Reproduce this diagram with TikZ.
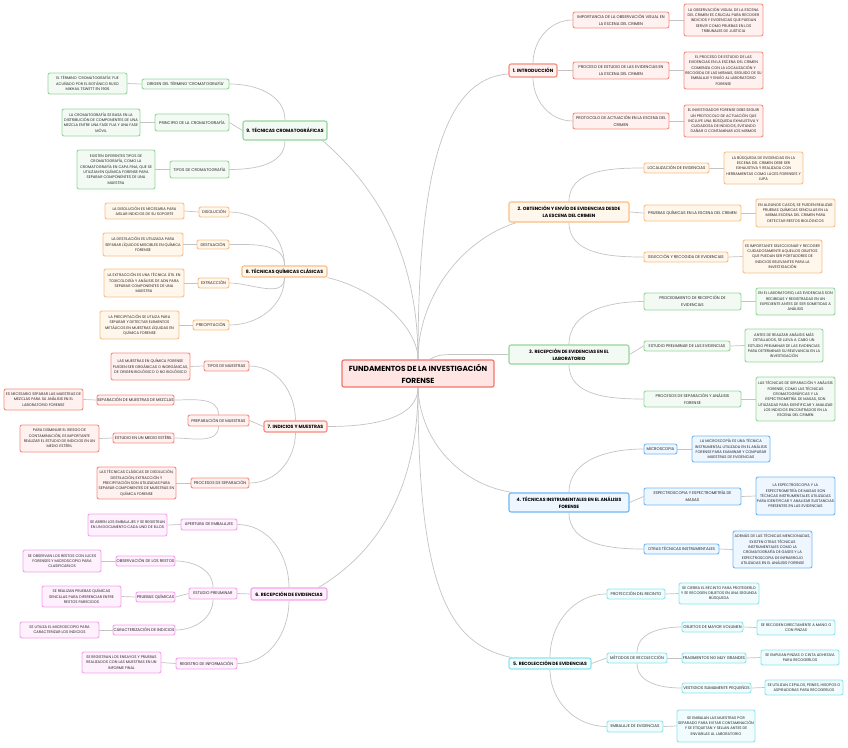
\documentclass[tikz,border=0pt]{standalone}
\usepackage{fontspec}
\setmainfont{Poppins}
\usetikzlibrary{calc}
\definecolor{lnC}{HTML}{C4C4C4}
\definecolor{rootD}{HTML}{F0766B}\definecolor{rootF}{HTML}{FFE6E5}
\definecolor{rD}{HTML}{F58C80}\definecolor{rF}{HTML}{FFF1EF}
\definecolor{oD}{HTML}{F9BF85}\definecolor{oF}{HTML}{FFF6EC}
\definecolor{gD}{HTML}{95D69C}\definecolor{gF}{HTML}{F3FAF4}
\definecolor{bD}{HTML}{70B8F2}\definecolor{bF}{HTML}{EEF6FF}
\definecolor{cD}{HTML}{8AE6EE}\definecolor{cF}{HTML}{F0FCFD}
\definecolor{pD}{HTML}{F5A2EA}\definecolor{pF}{HTML}{FEF0FC}
\pgfdeclarelayer{bg}\pgfsetlayers{bg,main}
\tikzset{
 mmbox/.style={rounded corners=2pt, line width=0.9pt, inner sep=0pt, align=center, text=black!85},
 mmdet/.style={mmbox, font=\fontsize{3.75}{5.3}\selectfont},
 mmsub/.style={mmbox, font=\fontsize{4.0}{6.8}\selectfont},
 mmbr/.style={mmbox, line width=1.1pt, font=\bfseries\fontsize{4.6}{7.2}\selectfont, text=black},
 sz/.style 2 args={minimum width=#1pt, minimum height=#2pt},
 tR/.style={draw=rD, fill=rF},
 tO/.style={draw=oD, fill=oF},
 tG/.style={draw=gD, fill=gF},
 tB/.style={draw=bD, fill=bF},
 tC/.style={draw=cD, fill=cF},
 tP/.style={draw=pD, fill=pF},
 ln/.style={draw=lnC, line width=0.7pt},
}
\begin{document}
\begin{tikzpicture}[x=1pt,y=-1pt]
\useasboundingbox (0,0) rectangle (848,747);

% root
\node[mmbox, draw=rootD, fill=rootF, line width=1.2pt, font=\bfseries\fontsize{7.4}{12}\selectfont, text=black, sz={152}{27}] (root) at (418,373.5) {FUNDAMENTOS DE LA INVESTIGACIÓN\\FORENSE};

% ---------- 1
\node[mmbr,tR,sz={48}{13}] (b1) at (533,70.5) {1. INTRODUCCIÓN};
\node[mmsub,tR,sz={96}{16}] (c11) at (621,20) {IMPORTANCIA DE LA OBSERVACIÓN VISUAL EN\\LA ESCENA DEL CRIMEN};
\node[mmdet,tR,sz={79}{32}] (d11) at (723.5,20) {LA OBSERVACIÓN VISUAL DE LA ESCENA\\DEL CRIMEN ES CRUCIAL PARA RECOGER\\INDICIOS Y EVIDENCIAS QUE PUEDAN\\SERVIR COMO PRUEBAS EN LOS\\TRIBUNALES DE JUSTICIA};
\node[mmsub,tR,sz={96}{17}] (c12) at (621,70.5) {PROCESO DE ESTUDIO DE LAS EVIDENCIAS EN\\LA ESCENA DEL CRIMEN};
\node[mmdet,tR,sz={79}{37}] (d12) at (723.5,70.5) {EL PROCESO DE ESTUDIO DE LAS\\EVIDENCIAS EN LA ESCENA DEL CRIMEN\\COMIENZA CON LA LOCALIZACIÓN Y\\RECOGIDA DE LAS MISMAS, SEGUIDO DE SU\\EMBALAJE Y ENVÍO AL LABORATORIO\\FORENSE};
\node[mmsub,tR,sz={96}{16}] (c13) at (621,121) {PROTOCOLO DE ACTUACIÓN EN LA ESCENA DEL\\CRIMEN};
\node[mmdet,tR,sz={79}{32}] (d13) at (723.5,121) {EL INVESTIGADOR FORENSE DEBE SEGUIR\\UN PROTOCOLO DE ACTUACIÓN QUE\\INCLUYE UNA BÚSQUEDA EXHAUSTIVA Y\\CUIDADOSA DE INDICIOS, EVITANDO\\DAÑAR O CONTAMINAR LOS MISMOS};

% ---------- 2
\node[mmbr,tO,sz={120}{20}] (b2) at (569,212) {2. OBTENCIÓN Y ENVÍO DE EVIDENCIAS DESDE\\LA ESCENA DEL CRIMEN};
\node[mmsub,tO,sz={65}{10}] (c21) at (676.5,168) {LOCALIZACIÓN DE EVIDENCIAS};
\node[mmdet,tO,sz={79}{32}] (d21) at (763.5,168) {LA BÚSQUEDA DE EVIDENCIAS EN LA\\ESCENA DEL CRIMEN DEBE SER\\EXHAUSTIVA Y REALIZADA CON\\HERRAMIENTAS COMO LUCES FORENSES Y\\LUPA};
\node[mmsub,tO,sz={97}{16}] (c22) at (692.5,213) {PRUEBAS QUÍMICAS EN LA ESCENA DEL CRIMEN};
\node[mmdet,tO,sz={79}{28}] (d22) at (795.5,213) {EN ALGUNOS CASOS, SE PUEDEN REALIZAR\\PRUEBAS QUÍMICAS SENCILLAS EN LA\\MISMA ESCENA DEL CRIMEN PARA\\DETECTAR RESTOS BIOLÓGICOS};
\node[mmsub,tO,sz={84}{10}] (c23) at (686,257) {SELECCIÓN Y RECOGIDA DE EVIDENCIAS};
\node[mmdet,tO,sz={79}{33}] (d23) at (782.5,256.5) {ES IMPORTANTE SELECCIONAR Y RECOGER\\CUIDADOSAMENTE AQUELLOS OBJETOS\\QUE PUEDAN SER PORTADORES DE\\INDICIOS RELEVANTES PARA LA\\INVESTIGACIÓN};

% ---------- 3
\node[mmbr,tG,sz={120}{19}] (b3) at (569,354.5) {3. RECEPCIÓN DE EVIDENCIAS EN EL\\LABORATORIO};
\node[mmsub,tG,sz={97}{17}] (c31) at (692.5,301.5) {PROCEDIMIENTO DE RECEPCIÓN DE\\EVIDENCIAS};
\node[mmdet,tG,sz={79}{27}] (d31) at (795.5,301.5) {EN EL LABORATORIO, LAS EVIDENCIAS SON\\RECIBIDAS Y REGISTRADAS EN UN\\EXPEDIENTE ANTES DE SER SOMETIDAS A\\ANÁLISIS};
\node[mmsub,tG,sz={86}{10}] (c32) at (687,346) {ESTUDIO PRELIMINAR DE LAS EVIDENCIAS};
\node[mmdet,tG,sz={78}{33}] (d32) at (784,345.5) {ANTES DE REALIZAR ANÁLISIS MÁS\\DETALLADOS, SE LLEVA A CABO UN\\ESTUDIO PRELIMINAR DE LAS EVIDENCIAS\\PARA DETERMINAR SU RELEVANCIA EN LA\\INVESTIGACIÓN};
\node[mmsub,tG,sz={97}{16}] (c33) at (692.5,399) {PROCESOS DE SEPARACIÓN Y ANÁLISIS\\FORENSE};
\node[mmdet,tG,sz={79}{44}] (d33) at (795.5,399) {LAS TÉCNICAS DE SEPARACIÓN Y ANÁLISIS\\FORENSE, COMO LAS TÉCNICAS\\CROMATOGRÁFICAS Y LA\\ESPECTROMETRÍA DE MASAS, SON\\UTILIZADAS PARA IDENTIFICAR Y ANALIZAR\\LOS INDICIOS ENCONTRADOS EN LA\\ESCENA DEL CRIMEN};

% ---------- 4
\node[mmbr,tB,sz={120}{19}] (b4) at (569,502.5) {4. TÉCNICAS INSTRUMENTALES EN EL ANÁLISIS\\FORENSE};
\node[mmsub,tB,sz={33}{10}] (c41) at (660.5,449) {MICROSCOPIA};
\node[mmdet,tB,sz={78}{26}] (d41) at (731,449) {LA MICROSCOPÍA ES UNA TÉCNICA\\INSTRUMENTAL UTILIZADA EN EL ANÁLISIS\\FORENSE PARA EXAMINAR Y COMPARAR\\MUESTRAS DE EVIDENCIAS};
\node[mmsub,tB,sz={97}{17}] (c42) at (692.5,496.5) {ESPECTROSCOPIA Y ESPECTROMETRÍA DE\\MASAS};
\node[mmdet,tB,sz={79}{38}] (d42) at (795.5,496) {LA ESPECTROSCOPIA Y LA\\ESPECTROMETRÍA DE MASAS SON\\TÉCNICAS INSTRUMENTALES UTILIZADAS\\PARA IDENTIFICAR Y ANALIZAR SUSTANCIAS\\PRESENTES EN LAS EVIDENCIAS};
\node[mmsub,tB,sz={75}{10}] (c43) at (681.5,549) {OTRAS TÉCNICAS INSTRUMENTALES};
\node[mmdet,tB,sz={79}{37}] (d43) at (772.5,549.5) {ADEMÁS DE LAS TÉCNICAS MENCIONADAS,\\EXISTEN OTRAS TÉCNICAS\\INSTRUMENTALES COMO LA\\CROMATOGRAFÍA DE GASES Y LA\\ESPECTROSCOPIA DE INFRARROJO\\UTILIZADAS EN EL ANÁLISIS FORENSE};

% ---------- 5
\node[mmbr,tC,sz={82}{11}] (b5) at (550,663.5) {5. RECOLECCIÓN DE EVIDENCIAS};
\node[mmsub,tC,sz={58}{10}] (c51) at (636,594) {PROTECCIÓN DEL RECINTO};
\node[mmdet,tC,sz={80}{21}] (d51) at (719,593.5) {SE CIERRA EL RECINTO PARA PROTEGERLO\\Y SE RECOGEN OBJETOS EN UNA SEGUNDA\\BÚSQUEDA};
\node[mmsub,tC,sz={60}{10}] (c52) at (637,658) {MÉTODOS DE RECOLECCIÓN};
\node[mmsub,tC,sz={61}{10}] (c521) at (712.5,627) {OBJETOS DE MAYOR VOLUMEN};
\node[mmdet,tC,sz={78}{15}] (d521) at (796,627.5) {SE RECOGEN DIRECTAMENTE A MANO O\\CON PINZAS};
\node[mmsub,tC,sz={64}{10}] (c522) at (714,658) {FRAGMENTOS NO MUY GRANDES};
\node[mmdet,tC,sz={78}{15}] (d522) at (800,657.5) {SE EMPLEAN PINZAS O CINTA ADHESIVA\\PARA RECOGERLOS};
\node[mmsub,tC,sz={69}{10}] (c523) at (716.5,688) {VESTIGIOS SUMAMENTE PEQUEÑOS};
\node[mmdet,tC,sz={78}{15}] (d523) at (804,687.5) {SE UTILIZAN CEPILLOS, PEINES, HISOPOS O\\ASPIRADORAS PARA RECOGERLOS};
\node[mmsub,tC,sz={56}{11}] (c53) at (635,726.5) {EMBALAJE DE EVIDENCIAS};
\node[mmdet,tC,sz={78}{32}] (d53) at (716,726) {SE EMBALAN LAS MUESTRAS POR\\SEPARADO PARA EVITAR CONTAMINACIÓN\\Y SE ETIQUETAN Y SELLAN ANTES DE\\ENVIARLAS AL LABORATORIO};

% ---------- 9
\node[mmbr,tG,sz={84}{19}] (b9) at (285,130.5) {9. TÉCNICAS CROMATOGRÁFICAS};
\node[mmsub,tG,sz={87}{10}] (c91) at (185.5,84) {ORIGEN DEL TÉRMINO `CROMATOGRAFÍA'};
\node[mmdet,tG,sz={79}{21}] (d91) at (87.5,83.5) {EL TÉRMINO `CROMATOGRAFÍA' FUE\\ACUÑADO POR EL BOTÁNICO RUSO\\MIKHAIL TSWETT EN 1906};
\node[mmsub,tG,sz={74}{17}] (c92) at (192,122.5) {PRINCIPIO DE LA CROMATOGRAFÍA};
\node[mmdet,tG,sz={78}{27}] (d92) at (101,122.5) {LA CROMATOGRAFÍA SE BASA EN LA\\DISTRIBUCIÓN DE COMPONENTES DE UNA\\MEZCLA ENTRE UNA FASE FIJA Y UNA FASE\\MÓVIL};
\node[mmsub,tG,sz={59}{17}] (c93) at (199.5,169.5) {TIPOS DE CROMATOGRAFÍA};
\node[mmdet,tG,sz={78}{39}] (d93) at (116,169.5) {EXISTEN DIFERENTES TIPOS DE\\CROMATOGRAFÍA, COMO LA\\CROMATOGRAFÍA EN CAPA FINA, QUE SE\\UTILIZAN EN QUÍMICA FORENSE PARA\\SEPARAR COMPONENTES DE UNA\\MUESTRA};

% ---------- 8
\node[mmbr,tO,sz={85}{11}] (b8) at (284.5,271.5) {8. TÉCNICAS QUÍMICAS CLÁSICAS};
\node[mmsub,tO,sz={30}{10}] (c81) at (214,212) {DISOLUCIÓN};
\node[mmdet,tO,sz={79}{16}] (d81) at (144.5,211) {LA DISOLUCIÓN ES NECESARIA PARA\\AISLAR INDICIOS DE SU SOPORTE};
\node[mmsub,tO,sz={32}{9}] (c82) at (213,244.5) {DESTILACIÓN};
\node[mmdet,tO,sz={80}{23}] (d82) at (143,244.5) {LA DESTILACIÓN ES UTILIZADA PARA\\SEPARAR LÍQUIDOS MISCIBLES EN QUÍMICA\\FORENSE};
\node[mmsub,tO,sz={31}{10}] (c83) at (213.5,283) {EXTRACCIÓN};
\node[mmdet,tO,sz={80}{28}] (d83) at (144,283) {LA EXTRACCIÓN ES UNA TÉCNICA ÚTIL EN\\TOXICOLOGÍA Y ANÁLISIS DE ADN PARA\\SEPARAR COMPONENTES DE UNA\\MUESTRA};
\node[mmsub,tO,sz={36}{10}] (c84) at (211,325) {PRECIPITACIÓN};
\node[mmdet,tO,sz={79}{28}] (d84) at (139.5,325) {LA PRECIPITACIÓN SE UTILIZA PARA\\SEPARAR Y DETECTAR ELEMENTOS\\METÁLICOS EN MUESTRAS LÍQUIDAS EN\\QUÍMICA FORENSE};

% ---------- 7
\node[mmbr,tR,sz={63}{11}] (b7) at (295.5,426.5) {7. INDICIOS Y MUESTRAS};
\node[mmsub,tR,sz={45}{10}] (c71) at (226.5,366) {TIPOS DE MUESTRAS};
\node[mmdet,tR,sz={79}{27}] (d71) at (150.5,366.5) {LAS MUESTRAS EN QUÍMICA FORENSE\\PUEDEN SER ORGÁNICAS O INORGÁNICAS,\\DE ORIGEN BIOLÓGICO O NO BIOLÓGICO};
\node[mmsub,tR,sz={61}{11}] (c72) at (218.5,420.5) {PREPARACIÓN DE MUESTRAS};
\node[mmsub,tR,sz={77}{10}] (c721) at (135.5,400) {SEPARACIÓN DE MUESTRAS DE MEZCLAS};
\node[mmdet,tR,sz={79}{21}] (d721) at (43.5,399.5) {ES NECESARIO SEPARAR LAS MUESTRAS DE\\MEZCLAS PARA SU ANÁLISIS EN EL\\LABORATORIO FORENSE};
\node[mmsub,tR,sz={61}{10}] (c722) at (143.5,438) {ESTUDIO EN UN MEDIO ESTÉRIL};
\node[mmdet,tR,sz={79}{27}] (d722) at (59.5,438.5) {PARA DISMINUIR EL RIESGO DE\\CONTAMINACIÓN, ES IMPORTANTE\\REALIZAR EL ESTUDIO DE INDICIOS EN UN\\MEDIO ESTÉRIL};
\node[mmsub,tR,sz={58}{10}] (c73) at (220,483) {PROCESOS DE SEPARACIÓN};
\node[mmdet,tR,sz={79}{32}] (d73) at (136.5,483) {LAS TÉCNICAS CLÁSICAS DE DISOLUCIÓN,\\DESTILACIÓN, EXTRACCIÓN Y\\PRECIPITACIÓN SON UTILIZADAS PARA\\SEPARAR COMPONENTES DE MUESTRAS EN\\QUÍMICA FORENSE};

% ---------- 6
\node[mmbr,tP,sz={76}{12}] (b6) at (289,594) {6. RECEPCIÓN DE EVIDENCIAS};
\node[mmsub,tP,sz={56}{11}] (c61) at (209,524.5) {APERTURA DE EMBALAJES};
\node[mmdet,tP,sz={79}{22}] (d61) at (127.5,525) {SE ABREN LOS EMBALAJES Y SE REGISTRAN\\EN UN DOCUMENTO CADA UNO DE ELLOS};
\node[mmsub,tP,sz={48}{11}] (c62) at (213,593.5) {ESTUDIO PRELIMINAR};
\node[mmsub,tP,sz={59}{10}] (c621) at (145.5,561) {OBSERVACIÓN DE LOS RESTOS};
\node[mmdet,tP,sz={78}{22}] (d621) at (62,561) {SE OBSERVAN LOS RESTOS CON LUCES\\FORENSES Y MICROSCOPIO PARA\\CLASIFICARLOS};
\node[mmsub,tP,sz={39}{10}] (c622) at (155.5,597) {PRUEBAS QUÍMICAS};
\node[mmdet,tP,sz={79}{21}] (d622) at (81.5,596.5) {SE REALIZAN PRUEBAS QUÍMICAS\\SENCILLAS PARA DIFERENCIAR ENTRE\\RESTOS PARECIDOS};
\node[mmsub,tP,sz={62}{10}] (c623) at (144,630) {CARACTERIZACIÓN DE INDICIOS};
\node[mmdet,tP,sz={79}{16}] (d623) at (59.5,630) {SE UTILIZA EL MICROSCOPIO PARA\\CARACTERIZAR LOS INDICIOS};
\node[mmsub,tP,sz={61}{11}] (c63) at (206.5,663.5) {REGISTRO DE INFORMACIÓN};
\node[mmdet,tP,sz={79}{21}] (d63) at (121.5,662.5) {SE REGISTRAN LOS ENSAYOS Y PRUEBAS\\REALIZADOS CON LAS MUESTRAS EN UN\\INFORME FINAL};

\begin{pgfonlayer}{bg}
\fill[white] (0,0) rectangle (848,747);
% root connectors
\draw[ln] (root.north) .. controls +(0,-190) and +(-64,4) .. ([yshift=-3.5pt]b1.west);
\draw[ln] (root.north) .. controls +(0,-60) and +(-57,18) .. ([xshift=8pt]b2.south west);
\draw[ln] ([xshift=12pt]root.north) .. controls +(8,-5) and +(-15,0) .. ($(b3.west)+(-50,0)$) -- (b3.west);
\draw[ln] (root.north) .. controls +(0,-100) and +(58,50) .. ([xshift=-5pt]b9.south east);
\draw[ln] (root.north) .. controls +(0,-30) and +(53,13) .. (b8.south east);
\draw[ln] (root.south) .. controls +(0,28) and +(53,0) .. (b7.east);
\draw[ln] (root.south) .. controls +(0,83) and +(72,-43) .. ([xshift=-9pt]b6.north east);
\draw[ln] (root.south) .. controls +(2,53) and +(-53,-8) .. ([xshift=4pt]b4.north west);
\draw[ln] (root.south) .. controls +(0,203) and +(-62,-13) .. ([xshift=3pt]b5.north west);
% branch 1
\draw[ln] (b1.north) to[out=90,in=180] (c11.west);
\draw[ln] (b1.east) -- (c12.west);
\draw[ln] (b1.south) to[out=-90,in=180] (c13.west);
\draw[ln] (c11.east) -- (d11.west);
\draw[ln] (c12.east) -- (d12.west);
\draw[ln] (c13.east) -- (d13.west);
% branch 2
\draw[ln] (b2.north) to[out=90,in=180] (c21.west);
\draw[ln] (b2.east) -- (c22.west);
\draw[ln] (b2.south) to[out=-90,in=180] (c23.west);
\draw[ln] (c21.east) -- (d21.west);
\draw[ln] (c22.east) -- (d22.west);
\draw[ln] (c23.east) -- (d23.west);
% branch 3
\draw[ln] (b3.north) to[out=90,in=180] (c31.west);
\draw[ln] (b3.east) -- (c32.west);
\draw[ln] (b3.south) to[out=-90,in=180] (c33.west);
\draw[ln] (c31.east) -- (d31.west);
\draw[ln] (c32.east) -- (d32.west);
\draw[ln] (c33.east) -- (d33.west);
% branch 4
\draw[ln] (b4.north) to[out=90,in=180] (c41.west);
\draw[ln] (b4.east) -- (c42.west);
\draw[ln] (b4.south) to[out=-90,in=180] (c43.west);
\draw[ln] (c41.east) -- (d41.west);
\draw[ln] (c42.east) -- (d42.west);
\draw[ln] (c43.east) -- (d43.west);
% branch 5
\draw[ln] (b5.north) to[out=90,in=180] (c51.west);
\draw[ln] (b5.east) -- (c52.west);
\draw[ln] (b5.south) to[out=-90,in=180] (c53.west);
\draw[ln] (c51.east) -- (d51.west);
\draw[ln] (c53.east) -- (d53.west);
\draw[ln] (c52.north) to[out=90,in=180] (c521.west);
\draw[ln] (c52.east) -- (c522.west);
\draw[ln] (c52.south) to[out=-90,in=180] (c523.west);
\draw[ln] (c521.east) -- (d521.west);
\draw[ln] (c522.east) -- (d522.west);
\draw[ln] (c523.east) -- (d523.west);
% branch 9
\draw[ln] (b9.north) to[out=90,in=0] (c91.east);
\draw[ln] (b9.west) -- (c92.east);
\draw[ln] (b9.south) to[out=-90,in=0] (c93.east);
\draw[ln] (c91.west) -- (d91.east);
\draw[ln] (c92.west) -- (d92.east);
\draw[ln] (c93.west) -- (d93.east);
% branch 8
\draw[ln] (b8.north) to[out=90,in=0] (c81.east);
\draw[ln] (b8.north) to[out=90,in=0] (c82.east);
\draw[ln] (b8.south) to[out=-90,in=0] (c83.east);
\draw[ln] (b8.south) to[out=-90,in=0] (c84.east);
\draw[ln] (c81.west) -- (d81.east);
\draw[ln] (c82.west) -- (d82.east);
\draw[ln] (c83.west) -- (d83.east);
\draw[ln] (c84.west) -- (d84.east);
% branch 7
\draw[ln] (b7.north) to[out=90,in=0] (c71.east);
\draw[ln] (b7.west) -- (c72.east);
\draw[ln] (b7.south) to[out=-90,in=0] (c73.east);
\draw[ln] (c71.west) -- (d71.east);
\draw[ln] (c72.north) to[out=90,in=0] (c721.east);
\draw[ln] (c72.south) to[out=-90,in=0] (c722.east);
\draw[ln] (c721.west) -- (d721.east);
\draw[ln] (c722.west) -- (d722.east);
\draw[ln] (c73.west) -- (d73.east);
% branch 6
\draw[ln] (b6.north) to[out=90,in=0] (c61.east);
\draw[ln] (b6.west) -- (c62.east);
\draw[ln] (b6.south) to[out=-90,in=0] (c63.east);
\draw[ln] (c61.west) -- (d61.east);
\draw[ln] (c62.north) to[out=90,in=0] (c621.east);
\draw[ln] (c62.west) -- (c622.east);
\draw[ln] (c62.south) to[out=-90,in=0] (c623.east);
\draw[ln] (c621.west) -- (d621.east);
\draw[ln] (c622.west) -- (d622.east);
\draw[ln] (c623.west) -- (d623.east);
\draw[ln] (c63.west) -- (d63.east);
\end{pgfonlayer}
\end{tikzpicture}
\end{document}
